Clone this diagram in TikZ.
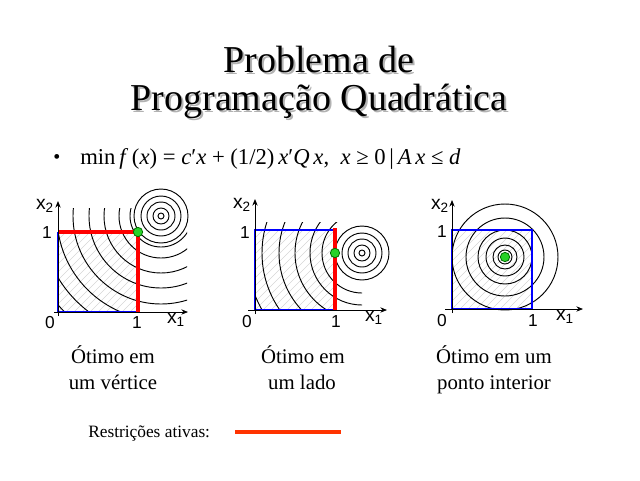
\documentclass[tikz,border=0pt]{standalone}
\usepackage{fontspec}
\setmainfont{Liberation Serif}
\newfontfamily\arialf{Liberation Sans}
\usetikzlibrary{arrows.meta}
\definecolor{actred}{RGB}{255,0,0}
\definecolor{legred}{RGB}{255,51,0}
\definecolor{optgreen}{RGB}{40,210,40}
\definecolor{optedge}{RGB}{0,110,0}
\begin{document}
\begin{tikzpicture}[x=0.75pt,y=-0.75pt,
  hatch/.style={gray!32, line width=0.45pt},
  contour/.style={black, line width=0.7pt},
  feas/.style={blue, line width=0.8pt},
  active/.style={actred, line width=3pt},
  axis/.style={black, line width=0.6pt, -{Stealth[length=5pt,width=4pt]}},
  opt/.style={circle, fill=optgreen, draw=optedge, line width=0.6pt, minimum size=7pt, inner sep=0pt},
  lab/.style={font=\arialf\fontsize{13}{14}\selectfont, inner sep=0pt},
  xlab/.style={font=\arialf\fontsize{14.5}{15}\selectfont, inner sep=0pt},
  capt/.style={font=\fontsize{15.6}{18}\selectfont, inner sep=0pt, anchor=base},
]
\useasboundingbox (0,0) rectangle (640,480);

% ---------- title ----------
\node[font=\fontsize{28.5}{34}\selectfont, text=gray!60, inner sep=0pt, anchor=base] (t1s) at (321,74) {Problema de};
\node[font=\fontsize{28.5}{34}\selectfont, text=gray!60, inner sep=0pt, anchor=base] (t2s) at (321,112) {Programação Quadrática};
\node[font=\fontsize{28.5}{34}\selectfont, inner sep=0pt, anchor=base] (t1) at (319,72) {Problema de};
\node[font=\fontsize{28.5}{34}\selectfont, inner sep=0pt, anchor=base] (t2) at (319,110) {Programação Quadrática};

% ---------- formula ----------
\node[font=\fontsize{15}{16}\selectfont, inner sep=0pt] (bul) at (57,159) {\textbullet};
\node[font=\fontsize{17}{20}\selectfont, inner sep=0pt, anchor=base west] (form) at (80,164)
  {min\,\textit{f}\,(\textit{x}) = \textit{c}′\textit{x} + (1/2)\,\textit{x}′\textit{Q\,x},\enspace \textit{x} ≥ 0\,|\,\textit{A\,x} ≤ \textit{d}};

% ---------- panel 1: optimum at a vertex ----------
\begin{scope}[shift={(58,312)}]
  \coordinate (p1o) at (0,0);
  \coordinate (p1a) at (80,0);
  \coordinate (p1b) at (80,-80);
  \coordinate (p1c) at (0,-80);
  \coordinate (p1c0) at (103,-96);
  \begin{scope}
    \clip (p1o) rectangle (p1b);
    \foreach \i in {-88,-80,...,88} \draw[hatch] (\i,0) -- ++(88,-88);
  \end{scope}
  \foreach \r in {3,8,14,20,27} \draw[contour] (p1c0) circle[radius=\r];
  \begin{scope}
    \clip (0,-104) rectangle (129,0);
    \foreach \r in {31,42,57,72,88,104,120,136} \draw[contour] (p1c0) circle[radius=\r];
  \end{scope}
  \draw[feas] (p1a) -- (p1o) -- (p1c);
  \draw[active, line join=miter] (p1c) -- (p1b) -- (p1a);
  \coordinate (p1xs) at (-4,0); \coordinate (p1xe) at (130,0);
  \coordinate (p1ys) at (0,4);  \coordinate (p1ye) at (0,-111);
  \draw[axis] (p1xs) -- (p1xe);
  \draw[axis] (p1ys) -- (p1ye);
  \node[opt] (p1opt) at (p1b) {};
  \node[xlab] (p1x2) at (-13,-106) {x\textsubscript{2}};
  \node[lab] (p1one) at (-11,-79) {1};
  \node[lab] (p1zero) at (-8,11) {0};
  \node[lab] (p1onex) at (79,11) {1};
  \node[xlab] (p1x1) at (118,8) {x\textsubscript{1}};
\end{scope}

% ---------- panel 2: optimum on a side ----------
\begin{scope}[shift={(255,310)}]
  \coordinate (p2o) at (0,0);
  \coordinate (p2a) at (80,0);
  \coordinate (p2b) at (80,-80);
  \coordinate (p2c) at (0,-80);
  \coordinate (p2c0) at (107,-57);
  \begin{scope}
    \clip (p2o) rectangle (p2b);
    \foreach \i in {-88,-80,...,88} \draw[hatch] (\i,0) -- ++(88,-88);
  \end{scope}
  \foreach \r in {3,8,14,20,27} \draw[contour] (p2c0) circle[radius=\r];
  \begin{scope}
    \clip (0,-88) rectangle (107,0);
    \foreach \r in {40,52,67,83,100,115} \draw[contour] (p2c0) circle[radius=\r];
  \end{scope}
  \draw[feas] (p2a) -- (p2o) -- (p2c) -- (p2b);
  \coordinate (p2top) at (80,-82);
  \draw[active] (p2top) -- (p2a);
  \coordinate (p2xs) at (-7,0); \coordinate (p2xe) at (132,0);
  \coordinate (p2ys) at (0,4);  \coordinate (p2ye) at (0,-111);
  \draw[axis] (p2xs) -- (p2xe);
  \draw[axis] (p2ys) -- (p2ye);
  \node[opt] (p2opt) at (80,-57) {};
  \node[xlab] (p2x2) at (-13,-105) {x\textsubscript{2}};
  \node[lab] (p2one) at (-10,-77) {1};
  \node[lab] (p2zero) at (-8,12) {0};
  \node[lab] (p2onex) at (81,12) {1};
  \node[xlab] (p2x1) at (119,8) {x\textsubscript{1}};
\end{scope}

% ---------- panel 3: interior optimum ----------
\begin{scope}[shift={(452,309)}]
  \coordinate (p3o) at (0,0);
  \coordinate (p3a) at (80,0);
  \coordinate (p3b) at (80,-79);
  \coordinate (p3c) at (0,-79);
  \coordinate (p3c0) at (53,-52);
  \begin{scope}
    \clip (p3o) rectangle (p3b);
    \foreach \i in {-88,-80,...,88} \draw[hatch] (\i,0) -- ++(88,-88);
  \end{scope}
  \foreach \r in {4,7,12,19,27,39,53} \draw[contour] (p3c0) circle[radius=\r];
  \draw[feas] (p3o) -- (p3a) -- (p3b) -- (p3c) -- cycle;
  \coordinate (p3xs) at (-7,0); \coordinate (p3xe) at (131,0);
  \coordinate (p3ys) at (0,4);  \coordinate (p3ye) at (0,-109);
  \draw[axis] (p3xs) -- (p3xe);
  \draw[axis] (p3ys) -- (p3ye);
  \node[opt] (p3opt) at (p3c0) {};
  \node[xlab] (p3x2) at (-12,-103) {x\textsubscript{2}};
  \node[lab] (p3one) at (-10,-77) {1};
  \node[lab] (p3zero) at (-10,12) {0};
  \node[lab] (p3onex) at (81,12) {1};
  \node[xlab] (p3x1) at (113,8) {x\textsubscript{1}};
\end{scope}

% ---------- captions ----------
\node[capt] (c1a) at (113,363) {Ótimo em};
\node[capt] (c1b) at (113,389) {um vértice};
\node[capt] (c2a) at (303,363) {Ótimo em};
\node[capt] (c2b) at (302,389) {um lado};
\node[capt] (c3a) at (494,363) {Ótimo em um};
\node[capt] (c3b) at (494,389) {ponto interior};

% ---------- legend ----------
\node[font=\fontsize{13}{15}\selectfont, inner sep=0pt, anchor=base west] (leg) at (88,437) {Restrições ativas:};
\coordinate (la) at (235,432);
\coordinate (lb) at (341,432);
\draw[legred, line width=2.4pt] (la) -- (lb);
\end{tikzpicture}
\end{document}
